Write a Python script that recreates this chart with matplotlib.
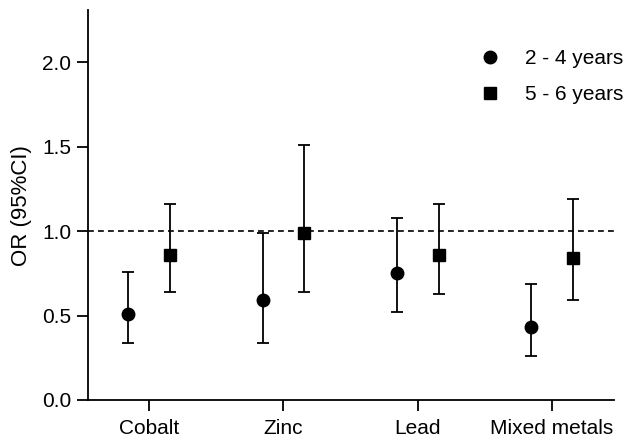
import matplotlib
matplotlib.use("Agg")
import matplotlib.pyplot as plt
import numpy as np

plt.rcParams['font.family'] = ['Liberation Sans', 'DejaVu Sans']

categories = ["Cobalt", "Zinc", "Lead", "Mixed metals"]
or_2_4 = [0.51, 0.59, 0.75, 0.43]
lo_2_4 = [0.34, 0.34, 0.52, 0.26]
hi_2_4 = [0.76, 0.99, 1.08, 0.69]
or_5_6 = [0.86, 0.99, 0.86, 0.84]
lo_5_6 = [0.64, 0.64, 0.63, 0.59]
hi_5_6 = [1.16, 1.51, 1.16, 1.19]
yticks = [0.0, 0.5, 1.0, 1.5, 2.0]

FS = 15

fig = plt.figure(figsize=(6.29, 4.41), dpi=100)
ax = fig.add_axes([0.140, 0.093, 0.836, 0.884])

x = np.arange(1, len(categories) + 1)
off = 0.155

a = np.array(or_2_4); b = np.array(or_5_6)
ax.axhline(1.0, color='black', linestyle=(0, (3.5, 2.5)), linewidth=1.2, zorder=1)
ax.errorbar(x - off, a, yerr=[a - np.array(lo_2_4), np.array(hi_2_4) - a],
            fmt='o', color='black', markersize=9, capsize=4.5, elinewidth=1.3,
            capthick=1.3, label='2 - 4 years', zorder=3)
ax.errorbar(x + off, b, yerr=[b - np.array(lo_5_6), np.array(hi_5_6) - b],
            fmt='s', color='black', markersize=8.5, capsize=4.5, elinewidth=1.3,
            capthick=1.3, label='5 - 6 years', zorder=3)

ax.set_xlim(0.545, 4.46)
ax.set_ylim(0, 2.31)
ax.set_xticks(x)
ax.set_xticklabels(categories, fontsize=FS)
ax.set_yticks(yticks)
ax.set_yticklabels([f"{v:.1f}" for v in yticks], fontsize=FS)
ax.set_ylabel("OR (95%CI)", fontsize=16, labelpad=7)

for s in ['top', 'right']:
    ax.spines[s].set_visible(False)
for s in ['left', 'bottom']:
    ax.spines[s].set_linewidth(1.3)
ax.tick_params(axis='both', length=8, width=1.3, direction='out', pad=4)
ax.tick_params(axis='x', pad=6)

handles, labels = ax.get_legend_handles_labels()
handles = [h[0] for h in handles]
fig.legend(handles, labels, loc='upper left', bbox_to_anchor=(0.759, 0.889),
           frameon=False, fontsize=FS, handletextpad=1.08, labelspacing=0.82,
           handlelength=1.2, borderpad=0, borderaxespad=0)

fig.savefig("out.png", dpi=100)
